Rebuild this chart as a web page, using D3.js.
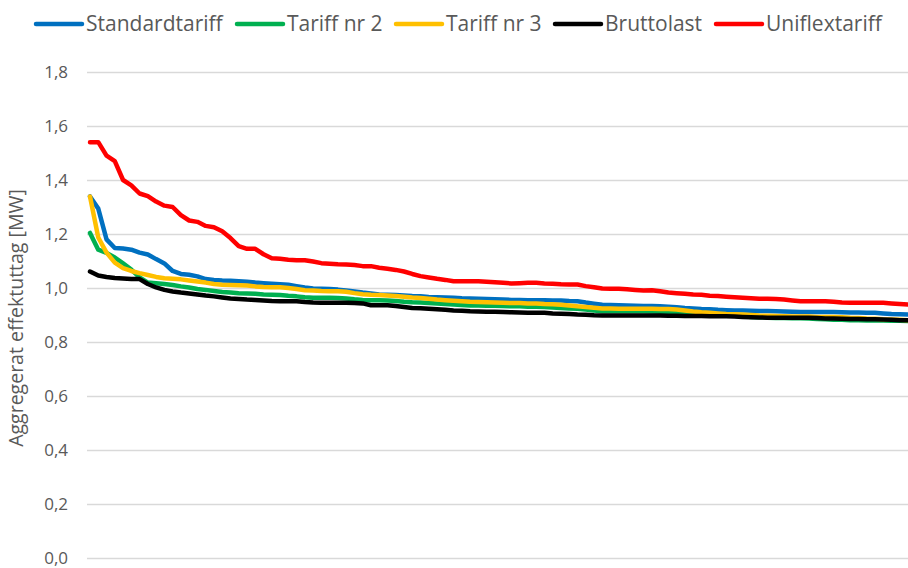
<!DOCTYPE html>
<html>
<head>
<meta charset="utf-8">
<script src="https://cdn.jsdelivr.net/npm/d3@7"></script>
<style>
  html, body { margin: 0; padding: 0; background: #fff; }
  svg { display: block; font-family: "Open Sans", "Noto Sans", sans-serif; }
</style>
</head>
<body>
<svg id="chart" width="908" height="568"></svg>
<script>
"use strict"

const seriesNames = ["Standardtariff", "Tariff nr 2", "Tariff nr 3", "Bruttolast", "Uniflextariff"]

const yTicks = [0, 0.2, 0.4, 0.6, 0.8, 1.0, 1.2, 1.4, 1.6, 1.8]

const yTitle = "Aggregerat effektuttag [MW]"

const standardtariff = [
    1.339, 1.294, 1.18, 1.148, 1.146, 1.142, 1.131, 1.124, 1.107, 1.091,
    1.063, 1.052, 1.049, 1.043, 1.033, 1.030, 1.028, 1.027, 1.025, 1.023,
    1.020, 1.018, 1.016, 1.014, 1.012, 1.007, 1.002, 0.998, 0.997, 0.996,
    0.994, 0.991, 0.987, 0.983, 0.980, 0.976, 0.975, 0.974, 0.972, 0.970,
    0.969, 0.967, 0.966, 0.965, 0.964, 0.962, 0.961, 0.960, 0.959, 0.958,
    0.957, 0.956, 0.956, 0.955, 0.955, 0.955, 0.954, 0.954, 0.952, 0.951,
    0.946, 0.942, 0.938, 0.937, 0.936, 0.935, 0.934, 0.933, 0.933, 0.932,
    0.931, 0.929, 0.926, 0.924, 0.922, 0.921, 0.919, 0.918, 0.917, 0.917,
    0.916, 0.915, 0.915, 0.914, 0.913, 0.912, 0.911, 0.911, 0.911, 0.911,
    0.911, 0.910, 0.909, 0.909, 0.908, 0.908, 0.906, 0.904, 0.903, 0.902
]

const tariff2 = [
    1.204, 1.142, 1.130, 1.113, 1.091, 1.068, 1.039, 1.020, 1.018, 1.015,
    1.011, 1.006, 1.002, 0.996, 0.993, 0.989, 0.985, 0.983, 0.981, 0.980,
    0.979, 0.976, 0.975, 0.974, 0.971, 0.969, 0.966, 0.964, 0.964, 0.964,
    0.963, 0.961, 0.958, 0.956, 0.955, 0.955, 0.954, 0.952, 0.949, 0.947,
    0.946, 0.944, 0.943, 0.941, 0.939, 0.937, 0.935, 0.935, 0.934, 0.934,
    0.933, 0.932, 0.932, 0.931, 0.931, 0.930, 0.928, 0.926, 0.924, 0.923,
    0.920, 0.917, 0.914, 0.914, 0.914, 0.914, 0.914, 0.914, 0.913, 0.912,
    0.911, 0.909, 0.908, 0.906, 0.904, 0.901, 0.900, 0.898, 0.897, 0.895,
    0.893, 0.892, 0.890, 0.889, 0.889, 0.888, 0.888, 0.887, 0.885, 0.884,
    0.882, 0.882, 0.881, 0.881, 0.880, 0.880, 0.880, 0.879, 0.879, 0.878
]

const tariff3 = [
    1.339, 1.187, 1.131, 1.094, 1.074, 1.063, 1.055, 1.048, 1.041, 1.036,
    1.034, 1.032, 1.028, 1.024, 1.020, 1.015, 1.012, 1.011, 1.010, 1.009,
    1.006, 1.004, 1.003, 1.003, 1.000, 0.996, 0.992, 0.991, 0.989, 0.988,
    0.988, 0.986, 0.981, 0.977, 0.975, 0.974, 0.972, 0.970, 0.968, 0.965,
    0.963, 0.960, 0.957, 0.955, 0.953, 0.951, 0.949, 0.948, 0.947, 0.946,
    0.945, 0.944, 0.944, 0.943, 0.943, 0.941, 0.940, 0.938, 0.935, 0.932,
    0.930, 0.927, 0.924, 0.924, 0.923, 0.923, 0.923, 0.923, 0.923, 0.922,
    0.922, 0.920, 0.917, 0.913, 0.910, 0.908, 0.906, 0.904, 0.903, 0.902,
    0.900, 0.898, 0.897, 0.896, 0.895, 0.894, 0.894, 0.894, 0.893, 0.893,
    0.893, 0.892, 0.890, 0.889, 0.887, 0.886, 0.884, 0.883, 0.882, 0.881
]

const bruttolast = [
    1.061, 1.046, 1.041, 1.037, 1.035, 1.033, 1.033, 1.015, 1.002, 0.993,
    0.987, 0.983, 0.980, 0.976, 0.972, 0.969, 0.965, 0.961, 0.959, 0.957,
    0.956, 0.954, 0.952, 0.951, 0.951, 0.951, 0.948, 0.946, 0.945, 0.945,
    0.945, 0.945, 0.944, 0.943, 0.936, 0.936, 0.936, 0.933, 0.930, 0.926,
    0.925, 0.923, 0.921, 0.919, 0.917, 0.916, 0.914, 0.913, 0.912, 0.912,
    0.911, 0.910, 0.909, 0.908, 0.908, 0.908, 0.906, 0.905, 0.904, 0.902,
    0.901, 0.899, 0.898, 0.898, 0.898, 0.898, 0.898, 0.898, 0.898, 0.898,
    0.897, 0.897, 0.896, 0.896, 0.896, 0.895, 0.895, 0.895, 0.894, 0.893,
    0.892, 0.891, 0.890, 0.890, 0.890, 0.890, 0.890, 0.890, 0.889, 0.887,
    0.887, 0.886, 0.885, 0.885, 0.884, 0.884, 0.883, 0.882, 0.881, 0.881
]

const uniflextariff = [
    1.540, 1.540, 1.490, 1.470, 1.400, 1.380, 1.350, 1.340, 1.320, 1.305,
    1.300, 1.270, 1.250, 1.245, 1.230, 1.225, 1.210, 1.185, 1.155, 1.145,
    1.145, 1.125, 1.110, 1.108, 1.105, 1.103, 1.103, 1.098, 1.092, 1.090,
    1.088, 1.087, 1.085, 1.081, 1.081, 1.075, 1.071, 1.067, 1.061, 1.052,
    1.044, 1.039, 1.034, 1.030, 1.025, 1.025, 1.025, 1.025, 1.023, 1.021,
    1.019, 1.017, 1.018, 1.019, 1.019, 1.017, 1.016, 1.014, 1.013, 1.013,
    1.007, 1.003, 0.998, 0.997, 0.997, 0.995, 0.993, 0.991, 0.992, 0.988,
    0.983, 0.981, 0.979, 0.976, 0.975, 0.971, 0.970, 0.968, 0.966, 0.964,
    0.962, 0.960, 0.960, 0.959, 0.957, 0.954, 0.951, 0.951, 0.951, 0.951,
    0.949, 0.946, 0.945, 0.945, 0.945, 0.945, 0.945, 0.943, 0.941, 0.939
]

const seriesValues = [standardtariff, tariff2, tariff3, bruttolast, uniflextariff]

// ---- layout

const W = 908, H = 568
const margin = { top: 72, right: 0, bottom: 10, left: 87 }

const svg = d3.select("#chart")

const color = d3.scaleOrdinal()
    .domain(seriesNames)
    .range(["#0070C0", "#00B050", "#FFC000", "#000000", "#FF0000"])

const x = d3.scaleLinear()
    .domain([0, standardtariff.length - 1])
    .range([90, W])

const y = d3.scaleLinear()
    .domain([0, 1.8])
    .range([H - margin.bottom, margin.top])

const locale = d3.formatLocale({ decimal: ",", thousands: " ", grouping: [3], currency: ["", " kr"] })
const fmt = locale.format(".1f")

// gridlines + tick labels
const yAxis = d3.axisLeft(y)
    .tickValues(yTicks)
    .tickSize(-(W - margin.left))
    .tickPadding(19)
    .tickFormat(fmt)

svg.append("g")
    .attr("transform", `translate(${margin.left},0)`)
    .call(yAxis)
    .call(g => g.select(".domain").remove())
    .call(g => g.selectAll(".tick line")
        .attr("stroke", "#d9d9d9")
        .attr("stroke-width", 1.5))
    .call(g => g.selectAll(".tick text")
        .attr("fill", "#595959")
        .attr("font-size", 17)
        .attr("font-family", "'Open Sans', sans-serif"))

// axis title
svg.append("text")
    .attr("transform", `translate(23,${318}) rotate(-90)`)
    .attr("text-anchor", "middle")
    .attr("fill", "#595959")
    .attr("font-size", 19.5)
    .text(yTitle)

// lines
const line = d3.line()
    .x((d, i) => x(i))
    .y(d => y(d))

svg.append("g")
    .selectAll("path")
    .data(seriesNames)
    .join("path")
    .attr("d", (name, k) => line(seriesValues[k]))
    .attr("fill", "none")
    .attr("stroke", name => color(name))
    .attr("stroke-width", 4.5)
    .attr("stroke-linejoin", "round")
    .attr("stroke-linecap", "round")

// legend
const legendX = [36, 237, 396, 555, 716]

const legend = svg.append("g")
    .selectAll("g")
    .data(seriesNames)
    .join("g")
    .attr("transform", (d, i) => `translate(${legendX[i]},24)`)

legend.append("line")
    .attr("x1", 0)
    .attr("x2", 46)
    .attr("stroke", d => color(d))
    .attr("stroke-width", 4.5)
    .attr("stroke-linecap", "round")

legend.append("text")
    .attr("x", 50)
    .attr("dy", "0.35em")
    .attr("fill", "#595959")
    .attr("font-size", 21)
    .text(d => d)
</script>
</body>
</html>
